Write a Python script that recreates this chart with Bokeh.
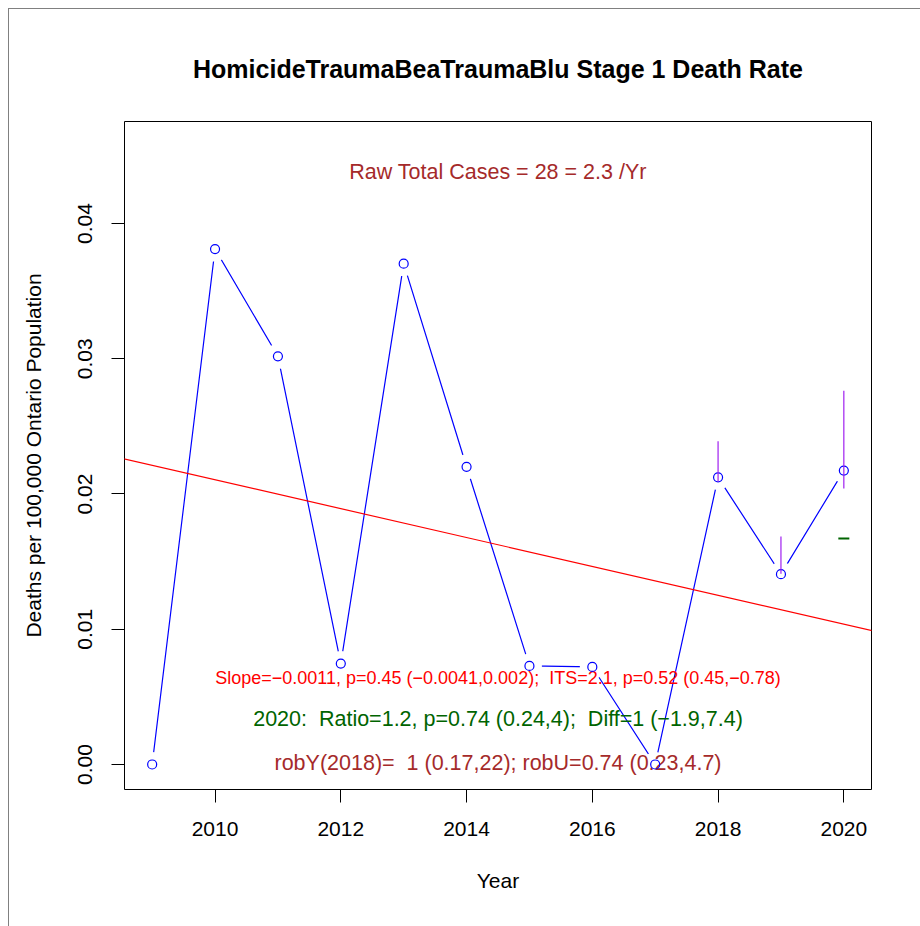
import math
from bokeh.plotting import figure
from bokeh.models import Range1d, FixedTicker, NumeralTickFormatter, Slope
from bokeh.embed import file_html
from bokeh.resources import INLINE
from bokeh.core.properties import value

# ---- data ----
years = [2009, 2010, 2011, 2012, 2013, 2014, 2015, 2016, 2017, 2018, 2019, 2020]
rates = [0.0, 0.03811, 0.03018, 0.00746, 0.03703, 0.02201, 0.00729, 0.00721, 0.0, 0.02123, 0.01407, 0.02173]

ci_years = [2018, 2019, 2020]
ci_low = [0.0209, 0.0141, 0.0204]
ci_high = [0.0239, 0.01685, 0.02764]

pred_year = [2020]
pred_rate = [0.0167]

trend_slope = -0.001068
trend_at_2009 = 0.02212

x_ticks = [2010, 2012, 2014, 2016, 2018, 2020]
y_ticks = [0.0, 0.01, 0.02, 0.03, 0.04]

NB = "\u00a0"
title_text = "HomicideTraumaBeaTraumaBlu Stage 1 Death Rate"
x_label = "Year"
y_label = "Deaths per 100,000 Ontario Population"
raw_text = "Raw Total Cases = 28 = 2.3 /Yr"
slope_text = "Slope=\u22120.0011, p=0.45 (\u22120.0041,0.002);" + NB + " ITS=2.1, p=0.52 (0.45,\u22120.78)"
ratio_text = "2020:" + NB + " Ratio=1.2, p=0.74 (0.24,4);" + NB + " Diff=1 (\u22121.9,7.4)"
rob_text = "robY(2018)=" + NB + " 1 (0.17,22); robU=0.74 (0.23,4.7)"

FONT = "Liberation Sans"
BROWN = "#A52A2A"
DKGREEN = "#006400"

p = figure(width=912, height=918, output_backend="svg", toolbar_location=None,
           x_range=Range1d(2008.56, 2020.44), y_range=Range1d(-0.00185, 0.04754),
           min_border_left=115, min_border_right=50, min_border_top=112, min_border_bottom=138,
           title=title_text)
p.margin = (8, 0, 0, 8)
p.styles = {"border-left": "1px solid #808080", "border-top": "1px solid #808080"}

p.title.align = "center"
p.title.text_font = FONT
p.title.text_font_size = "25px"
p.title.text_font_style = "bold"
p.title.text_color = "black"
p.title.standoff = 77

p.grid.visible = False
p.outline_line_color = "black"
p.outline_line_width = 1
p.background_fill_color = "white"
p.border_fill_color = "white"

for ax in (p.xaxis[0], p.yaxis[0]):
    ax.axis_line_color = None
    ax.major_tick_out = 13
    ax.major_tick_in = 0
    ax.minor_tick_line_color = None
    ax.major_tick_line_color = "black"
    ax.major_label_text_font = FONT
    ax.major_label_text_font_size = "21px"
    ax.major_label_text_color = "black"
    ax.axis_label_text_font = FONT
    ax.axis_label_text_font_size = "21px"
    ax.axis_label_text_font_style = "normal"
    ax.axis_label_text_color = "black"

p.xaxis.ticker = FixedTicker(ticks=x_ticks)
p.yaxis.ticker = FixedTicker(ticks=y_ticks)
p.yaxis.formatter = NumeralTickFormatter(format="0.00")
p.yaxis.major_label_orientation = "parallel"
p.xaxis.axis_label = x_label
p.yaxis.axis_label = y_label
p.xaxis.major_label_standoff = 19
p.yaxis.major_label_standoff = 19
p.xaxis.axis_label_standoff = 30
p.yaxis.axis_label_standoff = 31

# blue connecting line, with gaps around points (R type="b")
p.line(years, rates, line_color="blue", line_width=1.2)
p.scatter(years, rates, size=25, fill_color="white", line_color=None, marker="circle")

# annotation texts
p.text(x=[2014.5], y=[0.04378], text=[raw_text], text_color=BROWN, text_font=value(FONT),
       text_font_size="21.5px", text_align="center", text_baseline="middle")
p.text(x=[2014.5], y=[0.00638], text=[slope_text], text_color="red", text_font=value(FONT),
       text_font_size="18px", text_align="center", text_baseline="middle")
p.text(x=[2014.5], y=[0.00335], text=[ratio_text], text_color=DKGREEN, text_font=value(FONT),
       text_font_size="21.5px", text_align="center", text_baseline="middle")
p.text(x=[2014.5], y=[0.0001], text=[rob_text], text_color=BROWN, text_font=value(FONT),
       text_font_size="21.5px", text_align="center", text_baseline="middle")

# hollow points
p.scatter(years, rates, size=9, fill_color=None, line_color="blue", line_width=1.2, marker="circle")

# trend line
p.add_layout(Slope(gradient=trend_slope, y_intercept=trend_at_2009 - trend_slope * 2009,
                   line_color="red", line_width=1.2))

# CI bars
p.segment(x0=ci_years, y0=ci_low, x1=ci_years, y1=ci_high, line_color="#A020F0", line_width=1.2)

# predicted value
p.scatter(pred_year, pred_rate, marker="dash", size=11, line_color=DKGREEN, line_width=2)

open("out.html", "w").write(file_html(p, INLINE))
